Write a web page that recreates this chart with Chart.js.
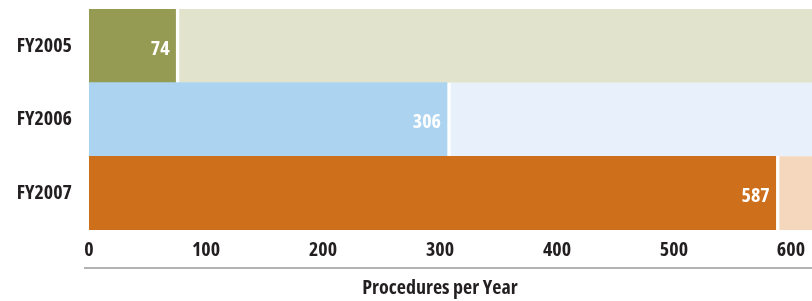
<!DOCTYPE html>
<html>
<head>
<meta charset="utf-8">
<script src="https://cdn.jsdelivr.net/npm/chart.js@4"></script>
<style>
  html, body { margin: 0; padding: 0; background: #fff; }
  #wrap { width: 812px; height: 301px; position: relative; }
</style>
</head>
<body>
<div id="wrap"><canvas id="procChart"></canvas></div>
<script>
// data
const years = ['FY2005', 'FY2006', 'FY2007'];
const procedures = [74, 306, 587];
const axisMax = 618;
const xTicks = [0, 100, 200, 300, 400, 500, 600];
const axisTitle = 'Procedures per Year';

const barColors = ['#959b53', '#acd3ef', '#cd6f1b'];
const restColors = ['#e1e3cd', '#e8f1fb', '#f4d7bd'];

const fontFam = '"Open Sans", "Roboto Condensed", sans-serif';
const fontWeight = 'bold condensed';
const textColor = '#231f20';

// white value label at the end of each bar
const valueLabels = {
    id: 'valueLabels',
    afterDatasetsDraw(chart) {
        const ctx = chart.ctx;
        const meta = chart.getDatasetMeta(0);
        ctx.save();
        ctx.font = fontWeight + ' 20px ' + fontFam;
        ctx.fillStyle = '#ffffff';
        ctx.textAlign = 'right';
        ctx.textBaseline = 'middle';
        meta.data.forEach((bar, i) => {
            ctx.fillText(String(procedures[i]), bar.x - 6, bar.y + 3);
        });
        ctx.restore();
    }
};

// grey rule under the tick labels + axis title
const axisRule = {
    id: 'axisRule',
    afterDraw(chart) {
        const ctx = chart.ctx;
        const x = chart.scales.x;
        ctx.save();
        ctx.strokeStyle = '#9a9a9a';
        ctx.lineWidth = 1.5;
        ctx.beginPath();
        ctx.moveTo(x.left - 5, x.top + 38);
        ctx.lineTo(chart.width, x.top + 38);
        ctx.stroke();

        ctx.font = fontWeight + ' 20px ' + fontFam;
        ctx.fillStyle = textColor;
        ctx.textAlign = 'center';
        ctx.textBaseline = 'middle';
        ctx.fillText(axisTitle, x.getPixelForValue(300), x.top + 58);
        ctx.restore();
    }
};

new Chart(document.getElementById('procChart'), {
    type: 'bar',
    data: {
        labels: years,
        datasets: [
            {
                data: procedures,
                backgroundColor: barColors,
                borderWidth: 0,
            },
            {
                data: procedures.map(v => axisMax - v),
                backgroundColor: restColors,
                borderColor: '#ffffff',
                borderWidth: { left: 4, right: 0, top: 0, bottom: 0 },
                borderSkipped: false,
            }
        ]
    },
    options: {
        indexAxis: 'y',
        responsive: true,
        maintainAspectRatio: false,
        animation: false,
        datasets: { bar: { categoryPercentage: 1, barPercentage: 1 } },
        layout: { padding: { top: 9, left: 0, right: 0, bottom: 0 } },
        plugins: { legend: { display: false }, tooltip: { enabled: false } },
        scales: {
            x: {
                stacked: true,
                min: 0,
                max: axisMax,
                grid: { display: false, drawTicks: false },
                border: { display: false },
                afterBuildTicks(scale) { scale.ticks = xTicks.map(v => ({ value: v })); },
                afterFit(scale) {
                    scale.height = 71;
                    scale.paddingLeft = 0;
                    scale.paddingRight = 0;
                },
                ticks: {
                    padding: 8,
                    color: textColor,
                    font: { family: fontFam, size: 20, weight: fontWeight },
                },
            },
            y: {
                stacked: true,
                grid: { display: false, drawTicks: false },
                border: { display: false },
                afterFit(scale) {
                    scale.width = 89;
                    scale.paddingTop = 0;
                    scale.paddingBottom = 0;
                },
                ticks: {
                    padding: 17,
                    color: textColor,
                    font: { family: fontFam, size: 20, weight: fontWeight },
                },
            },
        },
    },
    plugins: [valueLabels, axisRule],
});
</script>
</body>
</html>
